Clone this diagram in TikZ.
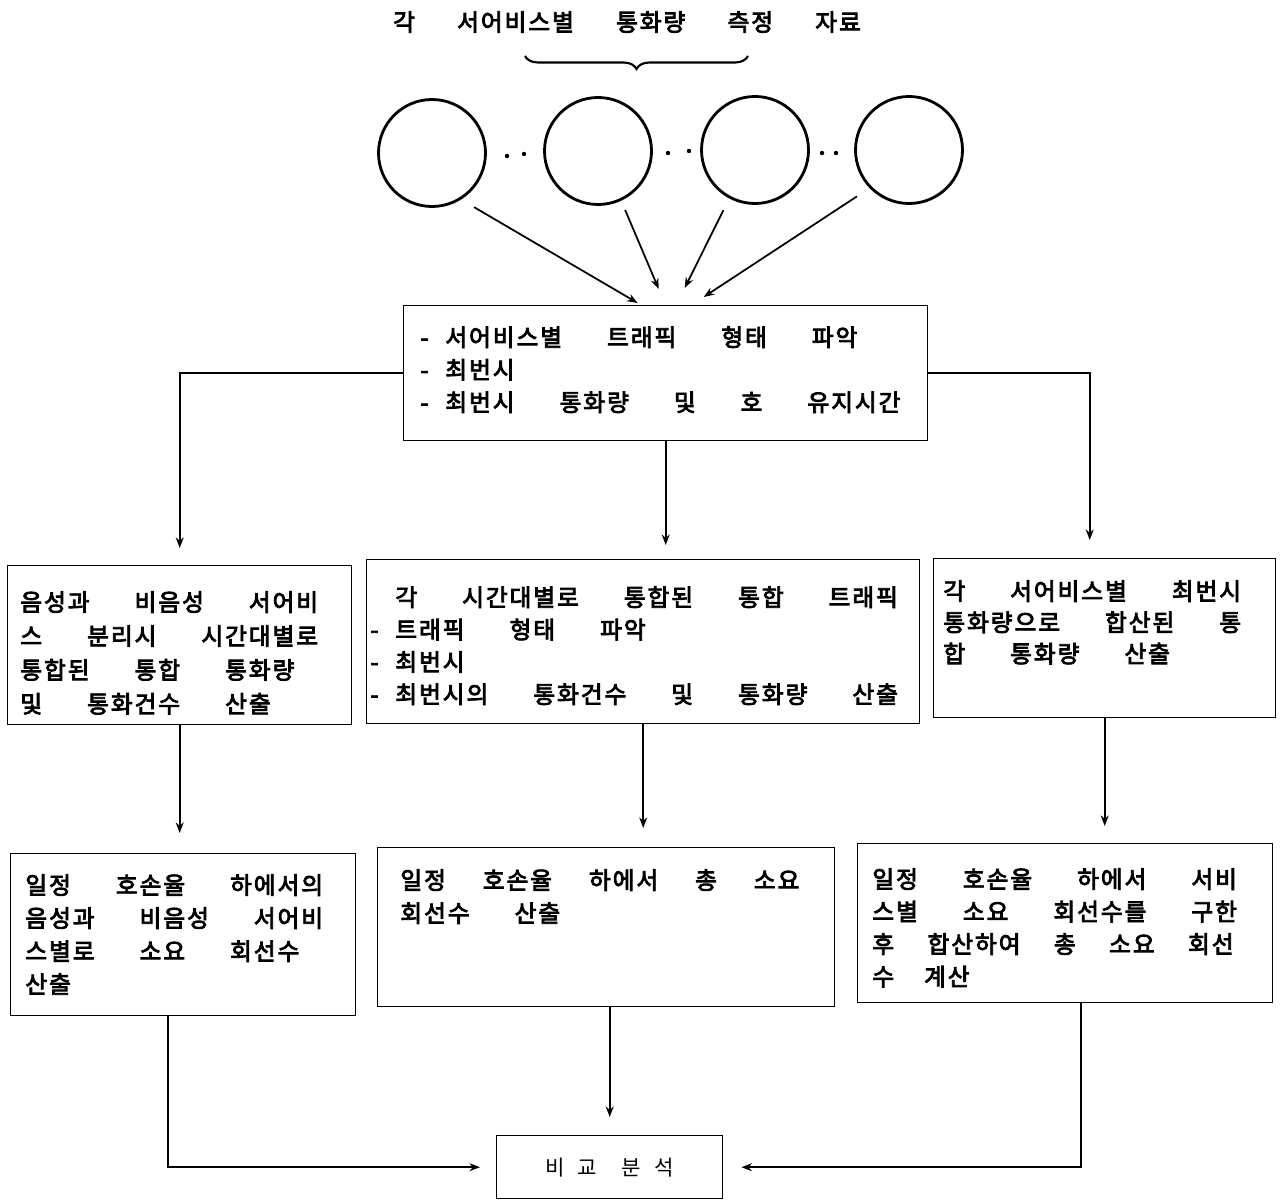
\documentclass[tikz,border=0pt]{standalone}
\usepackage{fontspec}
\usepackage{tikz}
\usetikzlibrary{arrows.meta, positioning, calc, decorations.pathreplacing}
\newfontfamily\krgras{Noto Sans CJK KR}[LetterSpace=8, FakeBold=3.5]
\newfontfamily\krfin{Noto Sans CJK KR}[LetterSpace=60]
\newcommand{\tiret}{\makebox[0.5cm][l]{-}}
\newcommand{\police}[2]{\krgras\fontsize{13.5}{#1}\selectfont\spaceskip=#2\relax}
\newcommand{\policefin}{\krfin\fontsize{12}{14}\selectfont\spaceskip=14pt\relax}
\newcommand{\serre}[2]{{\spaceskip=#1\relax #2}}

\begin{document}
\begin{tikzpicture}[x=0.2mm, y=-0.2mm, >={Stealth[length=6pt, width=4.5pt]},
  boite/.style={draw, line width=0.8pt, anchor=north west, inner sep=0pt},
  texte/.style={font=\police{#1}{25.6pt}, align=left, inner sep=0pt},
  rond/.style={circle, draw, line width=1.6pt, minimum size=2.14cm, inner sep=0pt},
  fleche/.style={->, line width=1pt}]
  \useasboundingbox (0,0) rectangle (1282,1200);
  % Titre et accolade
  \node[font=\police{15pt}{24pt}] (titre) at (627,22) {각 서어비스별 통화량 측정 자료};
  \draw[line width=1.2pt, decorate, decoration={brace, amplitude=0.26cm}]
      (748,56) -- (525,56);
  % Cercles des services
  \node[rond] (c1) at (432,153) {};
  \node[rond] (c2) at (598,151) {};
  \node[rond] (c3) at (755,150) {};
  \node[rond] (c4) at (909,150) {};
  \foreach \px/\py in {507/156, 524/154, 668/153, 689/151, 822/153, 836/153}
    \fill (\px,\py) circle (2.2);
  % Boite du haut
  \node[boite, minimum width=10.48cm, minimum height=2.7cm] (h0) at (403,305) {};
  \node[texte=18.5pt, below right=0.42cm and 0.34cm of h0.north west] (h0t)
      {\tiret 서어비스별 트래픽 형태 파악\\
       \tiret 최번시\\
       \tiret 최번시 통화량 및 호 유지시간};
  % Fleches des cercles
  \coordinate (p1) at ($(h0.north)+(-28,-2)$);
  \coordinate (p2) at ($(h0.north)+(-7,-16)$);
  \coordinate (p3) at ($(h0.north)+(19,-17)$);
  \coordinate (p4) at ($(h0.north)+(38,-8)$);
  \draw[fleche, shorten <=0.3cm] (c1.-58) -- (p1);
  \draw[fleche, shorten <=0.2cm] (c2.-65) -- (p2);
  \draw[fleche, shorten <=0.26cm] (c3.-118) -- (p3);
  \draw[fleche, shorten <=0.3cm] (c4.-136) -- (p4);
  % Rangee du milieu
  \node[boite, minimum width=6.88cm, minimum height=3.18cm] (g1) at (7,565) {};
  \node[texte=19.3pt, below right=0.52cm and 0.26cm of g1.north west] (g1t)
      {음성과 비음성 서어비\\
       스 분리시 시간대별로\\
       통합된 통합 통화량\\
       및 통화건수 산출};
  \node[boite, minimum width=11.06cm, minimum height=3.28cm] (g2) at (366,559) {};
  \node[texte=18.4pt, below right=0.54cm and 0.08cm of g2.north west] (g2t)
      {\hspace*{0.5cm}각 시간대별로 통합된 통합 트래픽\\
       \tiret 트래픽 형태 파악\\
       \tiret 최번시\\
       \tiret 최번시의 통화건수 및 통화량 산출};
  \node[boite, minimum width=6.84cm, minimum height=3.18cm] (g3) at (933,558) {};
  \node[texte=17.8pt, below right=0.44cm and 0.2cm of g3.north west] (g3t)
      {각 서어비스별 최번시\\
       통화량으로 합산된 통\\
       합 통화량 산출};
  % Rangee du bas
  \node[boite, minimum width=6.9cm, minimum height=3.24cm] (b1) at (10,853) {};
  \node[texte=18.8pt, below right=0.42cm and 0.3cm of b1.north west] (b1t)
      {일정 호손율 하에서의\\
       음성과 비음성 서어비\\
       스별로 소요 회선수\\
       산출};
  \node[boite, minimum width=9.14cm, minimum height=3.18cm] (b2) at (377,847) {};
  \node[texte=18.8pt, below right=0.44cm and 0.46cm of b2.north west] (b2t)
      {\serre{21pt}{일정 호손율 하에서 총 소요}\\
       회선수 산출};
  \node[boite, minimum width=8.3cm, minimum height=3.18cm] (b3) at (857,843) {};
  \node[texte=18.5pt, below right=0.5cm and 0.3cm of b3.north west] (b3t)
      {일정 호손율 하에서 서비\\
       스별 소요 회선수를 구한\\
       \serre{19pt}{후 합산하여 총 소요 회선}\\
       \serre{17pt}{수 계산}};
  % Comparaison finale
  \node[boite, minimum width=4.52cm, minimum height=1.26cm, font=\policefin] (fin)
      at (496,1135) {비교 분석};
  % Liaisons
  \draw[fleche, shorten >=0.34cm] (h0.west) -| (g1.north);
  \draw[fleche, shorten >=0.28cm] (h0.south) -- (h0.south |- g2.north);
  \draw[fleche, shorten >=0.36cm] (h0.east) -| ($(g3.north)+(-15,0)$);
  \draw[fleche, shorten >=0.4cm] (g1.south) -- (g1.south |- b1.north);
  \draw[fleche, shorten >=0.38cm] (g2.south) -- (g2.south |- b2.north);
  \draw[fleche, shorten >=0.34cm] (g3.south) -- (g3.south |- b3.north);
  \draw[fleche, shorten >=0.32cm] ($(b1.south)+(-15,0)$) |- (fin.west);
  \draw[fleche, shorten >=0.36cm] (b2.south -| fin.north) -- (fin.north);
  \draw[fleche, shorten >=0.36cm] ($(b3.south)+(16,0)$) |- (fin.east);
\end{tikzpicture}
\end{document}
